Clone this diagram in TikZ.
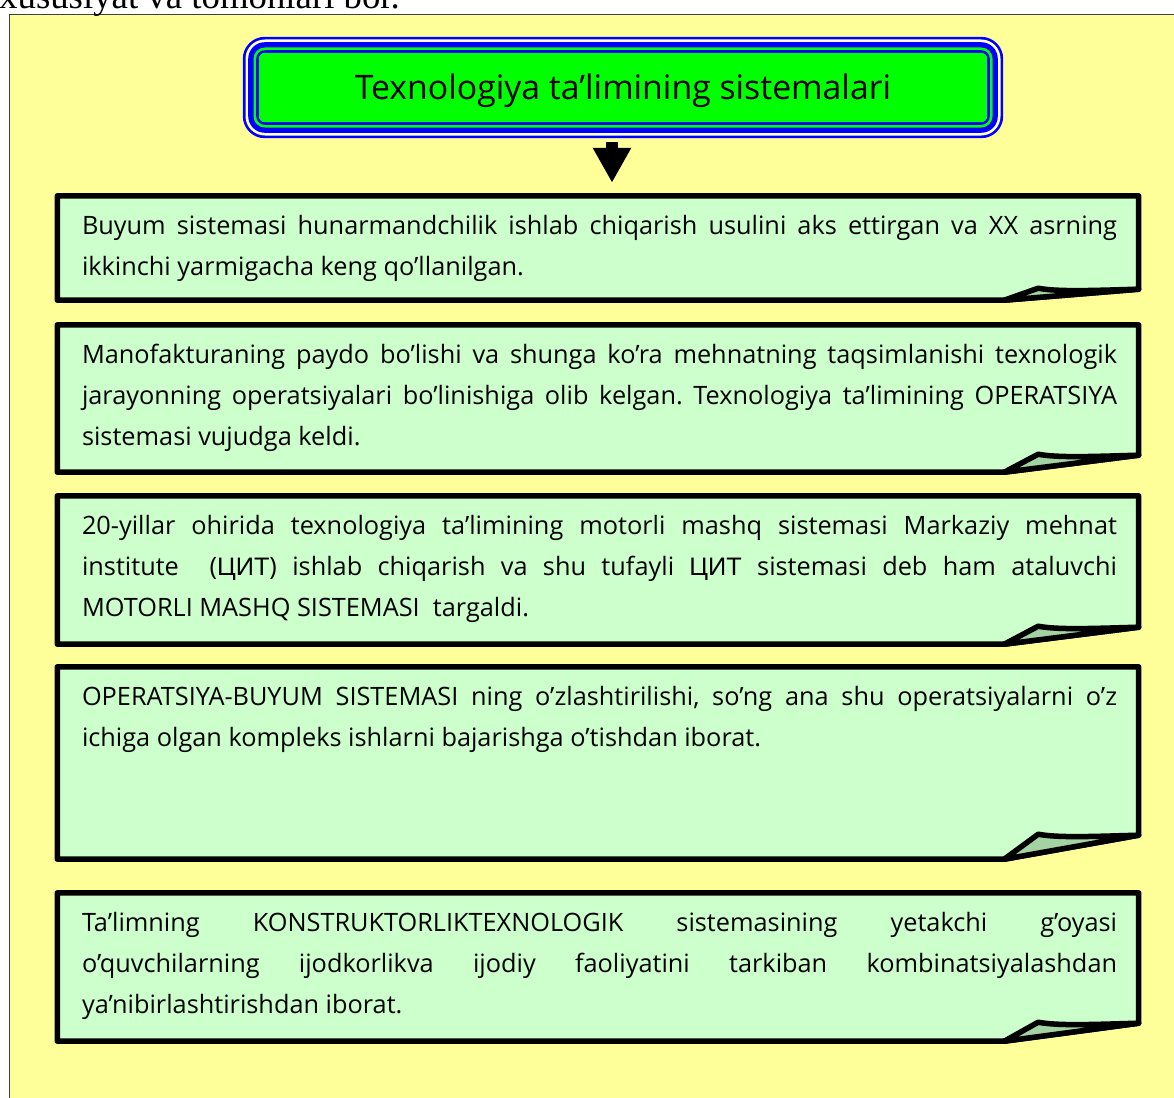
\documentclass[tikz,border=0pt]{standalone}
\usepackage{fontspec}
\setmainfont{Open Sans}
\newfontfamily\timesfont{Liberation Serif}
\newfontfamily\cyrfont{Liberation Sans}
\usetikzlibrary{arrows.meta,backgrounds}

\definecolor{pageyellow}{HTML}{FFFF99}
\definecolor{notegreen}{HTML}{CCFFCC}
\definecolor{curlgreen}{HTML}{A3D3A3}
\definecolor{creamline}{HTML}{FFFFD9}
\definecolor{titlegreen}{HTML}{00FF00}
\definecolor{titleblue}{HTML}{0000FF}

\newcommand{\notefont}{\fontsize{25.3}{41}\selectfont\frenchspacing\hyphenpenalty=10000\tolerance=10000\hbadness=10000}
\newcommand{\titlefont}{\fontsize{33.8}{40}\selectfont}

\tikzset{
	notebox/.style={minimum width=1081pt, inner sep=0pt, draw=none},
	noteline/.style={line width=5.5pt, line join=round, draw=black},
	notetext/.style={anchor=base west, text width=1035pt, align=justify, inner sep=0pt, font=\notefont},
	titlebox/.style={minimum width=760pt, minimum height=101pt, inner sep=0pt, text height=25pt, text depth=0pt, font=\titlefont},
	downarrow/.style={line width=12pt, -{Triangle[width=36pt,length=35pt]}},
}

% note with a curled corner: node name, curl height
\newcommand{\foldnote}[2]{%
	\filldraw[noteline, fill=notegreen] (#1.north west) -- (#1.north east) -- ([yshift=#2pt]#1.south east) -- ([xshift=-134.5pt]#1.south east) -- (#1.south west) -- cycle;
	\filldraw[noteline, fill=curlgreen] ([xshift=-134.5pt]#1.south east) -- ([xshift=-100.5pt,yshift=#2pt+1pt]#1.south east) .. controls ([xshift=-80pt,yshift=#2pt-3pt]#1.south east) and ([xshift=-40pt,yshift=#2pt-1pt]#1.south east) .. ([yshift=#2pt]#1.south east) -- cycle;
}

\begin{document}
\begin{tikzpicture}[x=1pt,y=1pt]
	\useasboundingbox (0,0) rectangle (1174,-1097);
	\clip (0,0) rectangle (1174,-1097);
	
	\node[anchor=base west, inner sep=0pt, font=\timesfont\fontsize{36.8}{40}\selectfont] (prev) at (-1,-8.5) {xususiyat va tomonlari bor.};
	
	% title
	\node[titlebox] (title) at (623,-87.5) {Texnologiya ta’limining sistemalari};
	\begin{scope}[on background layer]
		\fill[pageyellow] (9.5,-14.5) rectangle (1180,-1100);
		\draw[line width=1.8pt, black!75] (9.5,-1100) -- (9.5,-14.5) -- (1180,-14.5);
		\fill[titleblue, rounded corners=22pt] (title.north west) rectangle (title.south east);
		\fill[creamline, rounded corners=19.3pt] ([shift={(2.7,-2.7)}]title.north west) rectangle ([shift={(-2.7,2.7)}]title.south east);
		\fill[titleblue, rounded corners=16.6pt] ([shift={(5.4,-5.4)}]title.north west) rectangle ([shift={(-5.4,5.4)}]title.south east);
		\fill[titlegreen, rounded corners=11.3pt] ([shift={(10.7,-10.7)}]title.north west) rectangle ([shift={(-10.7,10.7)}]title.south east);
		\fill[titleblue, rounded corners=8.6pt] ([shift={(13.4,-13.4)}]title.north west) rectangle ([shift={(-13.4,13.4)}]title.south east);
		\fill[titlegreen, rounded corners=6pt] ([shift={(16,-16)}]title.north west) rectangle ([shift={(-16,16)}]title.south east);
	\end{scope}
	
	% notes
	\node[notebox, minimum height=104pt] (b1) at (598,-248) {};
	\foldnote{b1}{11}
	\node[notetext] (t1) at ([shift={(24.5,-39)}]b1.north west) {Buyum sistemasi hunarmandchilik ishlab chiqarish usulini aks ettirgan va XX asrning\linebreak ikkinchi yarmigacha keng qo’llanilgan.};
	
	\node[notebox, minimum height=147pt] (b2) at (598,-398.5) {};
	\foldnote{b2}{17}
	\node[notetext] (t2) at ([shift={(24.5,-38.5)}]b2.north west) {Manofakturaning paydo bo’lishi va shunga ko’ra mehnatning taqsimlanishi texnologik\linebreak jarayonning operatsiyalari bo’linishiga olib kelgan. Texnologiya ta’limining OPERATSIYA\linebreak sistemasi vujudga keldi.};
	
	\node[notebox, minimum height=148pt] (b3) at (598,-570) {};
	\foldnote{b3}{17}
	\node[notetext] (t3) at ([shift={(24.5,-38.5)}]b3.north west) {20-yillar ohirida texnologiya ta’limining motorli mashq sistemasi Markaziy mehnat\linebreak institute\ \ ({\cyrfont ЦИТ}) ishlab chiqarish va shu tufayli {\cyrfont ЦИТ} sistemasi deb ham ataluvchi\linebreak MOTORLI MASHQ SISTEMASI\ \ targaldi.};
	
	\node[notebox, minimum height=192pt] (b4) at (598,-763) {};
	\foldnote{b4}{24}
	\node[notetext] (t4) at ([shift={(24.5,-38.5)}]b4.north west) {OPERATSIYA-BUYUM SISTEMASI ning o’zlashtirilishi, so’ng ana shu operatsiyalarni o’z\linebreak ichiga olgan kompleks ishlarni bajarishga o’tishdan iborat.};
	
	\node[notebox, minimum height=148pt] (b5) at (598,-967) {};
	\foldnote{b5}{18}
	\node[notetext] (t5) at ([shift={(24.5,-38.5)}]b5.north west) {Ta’limning KONSTRUKTORLIKTEXNOLOGIK sistemasining yetakchi g’oyasi\linebreak o’quvchilarning ijodkorlikva ijodiy faoliyatini tarkiban kombinatsiyalashdan\linebreak ya’nibirlashtirishdan iborat.};
	
	% arrow
	\coordinate (arrowx) at (612,0);
	\draw[downarrow] ([yshift=-4pt]title.south -| arrowx) -- ([yshift=13pt]b1.north -| arrowx);
\end{tikzpicture}
\end{document}
